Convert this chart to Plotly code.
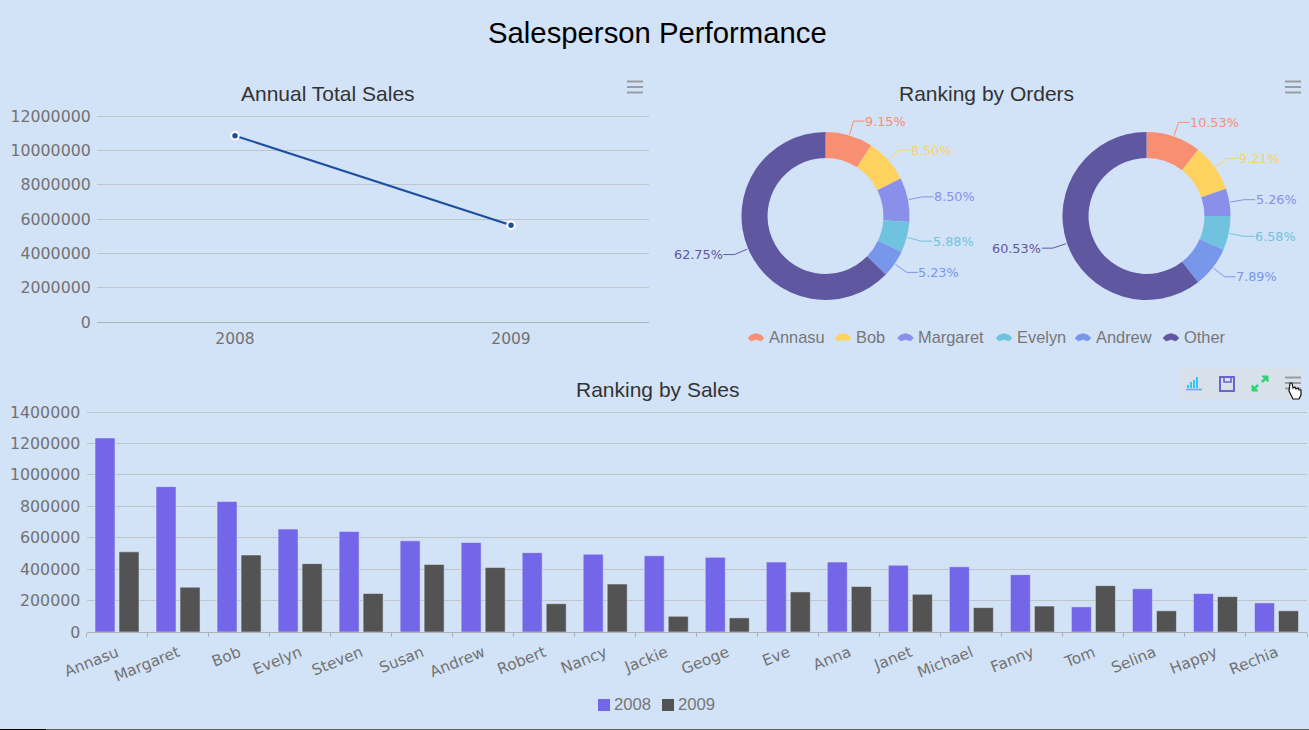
import math
import plotly.graph_objects as go

W, H = 1309, 730
BG = "#d2e2f7"
GRID = "#bfc4c9"
AXIS = "#aeb2b6"
TICK = "#727272"
SANS = "Liberation Sans"
TICKFONT = "DejaVu Sans"

# line chart
years = ["2008", "2009"]
annual_sales = [10850000, 5640000]

# pies
pie_labels = ["Annasu", "Bob", "Margaret", "Evelyn", "Andrew", "Other"]
pie_colors = ["#f88e72", "#fed25e", "#8a90ea", "#6fc3df", "#7896ea", "#5f57a0"]
orders_2008 = [9.15, 8.50, 8.50, 5.88, 5.23, 62.75]
orders_2009 = [10.53, 9.21, 5.26, 6.58, 7.89, 60.53]

# bars
people = ["Annasu", "Margaret", "Bob", "Evelyn", "Steven", "Susan", "Andrew", "Robert", "Nancy", "Jackie",
          "Geoge", "Eve", "Anna", "Janet", "Michael", "Fanny", "Tom", "Selina", "Happy", "Rechia"]
sales_2008 = [1235000, 925000, 830000, 655000, 640000, 580000, 570000, 505000, 495000, 485000,
              475000, 445000, 445000, 425000, 415000, 365000, 160000, 275000, 245000, 185000]
sales_2009 = [510000, 285000, 490000, 435000, 245000, 430000, 410000, 180000, 305000, 100000,
              90000, 255000, 290000, 240000, 155000, 165000, 295000, 135000, 225000, 135000]
bar_colors = ["#7366e8", "#535353"]


def px(x):
    return x / W


def py(y):
    return 1 - y / H


def text(x, y, s, size, color, font=SANS, anchor="center"):
    return dict(x=px(x), y=py(y), xref="paper", yref="paper", text=s, showarrow=False,
                xanchor=anchor, yanchor="middle", font=dict(family=font, size=size, color=color))


def path(d, **kw):
    return dict(type="path", path=d, xref="paper", yref="paper", **kw)


# shapes are given in pixels and converted here
def pxpath(points, close=False):
    s = "M" + " L".join(f"{px(a):.5f},{py(b):.5f}" for a, b in points)
    return s + (" Z" if close else "")


def menu_icon(x, y):
    out = []
    for dy in (0, 5.5, 11):
        out.append(dict(type="line", xref="paper", yref="paper", x0=px(x), x1=px(x + 16),
                        y0=py(y + dy), y1=py(y + dy), line=dict(color="#9a9ea3", width=2)))
    return out


annotations = [
    text(657, 33, "Salesperson Performance", 29.3, "#000000"),
    text(328, 93.5, "Annual Total Sales", 21, "#333333"),
    text(986, 93.5, "Ranking by Orders", 21, "#333333"),
    text(657, 389.5, "Ranking by Sales", 21, "#333333"),
]
shapes = []

fig = go.Figure()

# bottom bars
fig.add_trace(go.Bar(x=people, y=sales_2008, name="2008", marker_color=bar_colors[0], xaxis="x", yaxis="y", showlegend=False))
fig.add_trace(go.Bar(x=people, y=sales_2009, name="2009", marker_color=bar_colors[1], xaxis="x", yaxis="y", showlegend=False))

# annual line
fig.add_trace(go.Scatter(x=years, y=annual_sales, mode="lines+markers", xaxis="x2", yaxis="y2", showlegend=False,
                         line=dict(color="#1c4f9e", width=2),
                         marker=dict(size=7.5, color="#1c4f9e", line=dict(color="#ffffff", width=2))))

# donuts, leader lines and labels follow the slice angles
R, CY = 84, 216
for cx, vals in ((825.5, orders_2008), (1146.5, orders_2009)):
    fig.add_trace(go.Pie(labels=pie_labels, values=vals, sort=False, direction="clockwise", rotation=0,
                         hole=0.69, textinfo="none", showlegend=False,
                         marker=dict(colors=pie_colors),
                         domain=dict(x=[px(cx - R), px(cx + R)], y=[py(CY + R), py(CY - R)])))
    total = sum(vals)
    acc = 0
    for v, c in zip(vals, pie_colors):
        a = math.radians((acc + v / 2) / total * 360)
        acc += v
        sx, sy = math.sin(a), -math.cos(a)
        x1, y1 = cx + sx * (R + 1), CY + sy * (R + 1)
        x2, y2 = cx + sx * (R + 15), CY + sy * (R + 15)
        side = 1 if sx >= 0 else -1
        x3 = x2 + side * 11
        shapes.append(path(pxpath([(x1, y1), (x2, y2), (x3, y2)]), line=dict(color=c, width=1)))
        annotations.append(text(x3 - 1.5 * side, y2, f"{v:.2f}%", 12.8, c, TICKFONT, "left" if side > 0 else "right"))

# pie legend with fan shaped keys
legend_x = [748, 835, 897.5, 996, 1075, 1163]
for lx, lab, c in zip(legend_x, pie_labels, pie_colors):
    fan = [(lx, 338), (lx + 3, 335), (lx + 8, 333.5), (lx + 13, 335), (lx + 16, 338),
           (lx + 13, 341), (lx + 8, 339.5), (lx + 3, 341)]
    shapes.append(path(pxpath(fan, True), fillcolor=c, line=dict(color=c, width=0.5)))
    annotations.append(text(lx + 18.5, 337.5, lab, 16.4, "#777777", SANS, "left"))

# bar legend keys
for lx, lab, c in zip([598, 662], ["2008", "2009"], bar_colors):
    shapes.append(dict(type="rect", xref="paper", yref="paper", x0=px(lx), x1=px(lx + 12), y0=py(711), y1=py(699),
                       fillcolor=c, line_width=0))
    annotations.append(text(lx + 14, 704.5, lab, 16.7, "#777777", SANS, "left"))

# menu icons
shapes += menu_icon(627, 81.5)
shapes += menu_icon(1285, 81.5)

# toolbox in the lower chart
shapes.append(dict(type="rect", xref="paper", yref="paper", x0=px(1179), x1=px(1301), y0=py(400), y1=py(368),
                   fillcolor="#d8e0ea", line_width=0, layer="below"))
shapes.append(dict(type="line", xref="paper", yref="paper", x0=px(1186), x1=px(1202), y0=py(389.5), y1=py(389.5),
                   line=dict(color="#35c5f5", width=1.6)))
for bx, top in ((1188, 385), (1191, 382), (1194, 380), (1197, 377)):
    shapes.append(dict(type="line", xref="paper", yref="paper", x0=px(bx), x1=px(bx), y0=py(388), y1=py(top),
                       line=dict(color="#35c5f5", width=2)))
shapes.append(path(pxpath([(1220, 377), (1234, 377), (1234, 391), (1220, 391)], True), line=dict(color="#6a62d0", width=2)))
shapes.append(path(pxpath([(1224, 377), (1224, 382), (1231, 382), (1231, 377)]), line=dict(color="#6a62d0", width=1.6)))
for tri in ([(1262, 376), (1268, 376), (1268, 382)], [(1252, 385), (1252, 391), (1258, 391)]):
    shapes.append(path(pxpath(tri, True), fillcolor="#2ed573", line=dict(color="#2ed573", width=1)))
shapes.append(path(pxpath([(1262, 382), (1265, 379)]), line=dict(color="#2ed573", width=2.5)))
shapes.append(path(pxpath([(1255, 388), (1258, 385)]), line=dict(color="#2ed573", width=2.5)))
shapes += menu_icon(1285, 377.5)
# hand cursor
hand = [(1290, 383), (1292, 383), (1293, 388), (1295, 387), (1296, 389), (1298, 388), (1299, 390), (1301, 390),
        (1301, 395), (1299, 399), (1293, 399), (1291, 395), (1289, 391)]
shapes.append(path(pxpath(hand, True), fillcolor="#ffffff", line=dict(color="#111111", width=1.2)))

# window edge at the bottom
shapes.append(dict(type="line", xref="paper", yref="paper", x0=0, x1=1, y0=py(729.5), y1=py(729.5),
                   line=dict(color="#666666", width=1)))
shapes.append(dict(type="line", xref="paper", yref="paper", x0=0, x1=px(46), y0=py(729.5), y1=py(729.5),
                   line=dict(color="#000000", width=1)))

y_common = dict(showline=False, zeroline=False, gridcolor=GRID, gridwidth=1, ticks="outside", ticklen=2,
                tickcolor="rgba(0,0,0,0)", tickformat="d", automargin=False,
                tickfont=dict(family=TICKFONT, size=15.8, color=TICK))

# plots run 2px above the top tick, otherwise plotly drops the top gridline
fig.update_layout(
    width=W, height=H, margin=dict(l=0, r=0, t=0, b=0),
    paper_bgcolor=BG, plot_bgcolor=BG,
    barmode="group", bargap=0.213, bargroupgap=0.167,
    annotations=annotations, shapes=shapes,
    xaxis=dict(domain=[px(86.5), px(1307)], anchor="y", type="category", showgrid=False, showline=True, automargin=False,
               linecolor=AXIS, linewidth=1, ticks="outside", ticklen=4, tickcolor=AXIS, tickson="boundaries",
               tickangle=-22, ticklabelstandoff=5, tickfont=dict(family=TICKFONT, size=15.3, color=TICK)),
    yaxis=dict(domain=[py(632), py(410)], anchor="x", range=[0, 1400000 * 222 / 220], tick0=0, dtick=200000, **y_common),
    xaxis2=dict(domain=[px(97), px(649)], anchor="y2", type="category", range=[-0.5, 1.5], showgrid=False, showline=True,
                automargin=False, linecolor=AXIS, linewidth=1, ticks="outside", ticklen=2, tickcolor="rgba(0,0,0,0)",
                tickfont=dict(family=TICKFONT, size=15.5, color=TICK)),
    yaxis2=dict(domain=[py(322), py(114)], anchor="x2", range=[0, 12000000 * 208 / 206], tick0=0, dtick=2000000, **y_common),
)

fig.write_html("out.html", config={"displayModeBar": False}, post_script="document.body.style.margin='0';")
